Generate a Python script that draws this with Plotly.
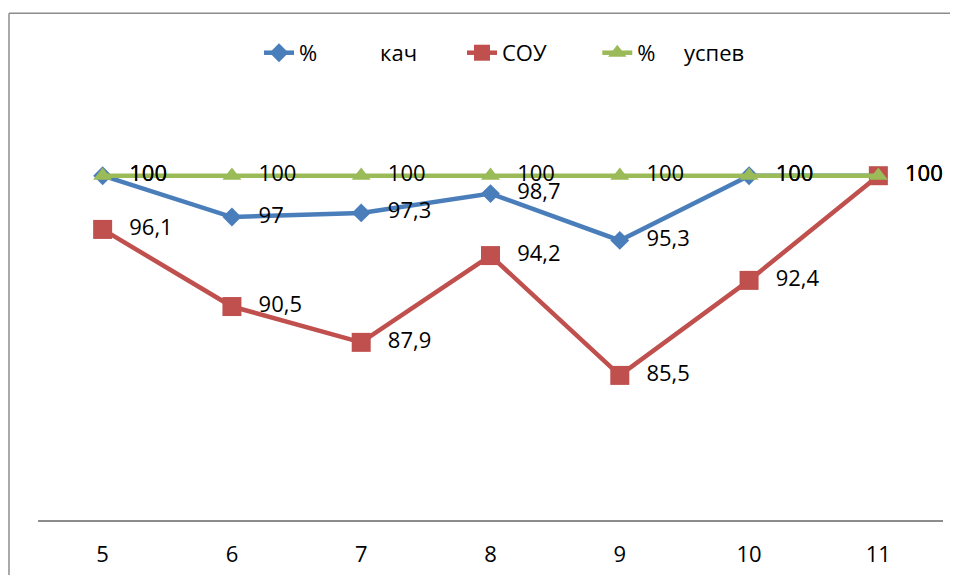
import plotly.graph_objects as go

# ---- data ----
grades = ["5", "6", "7", "8", "9", "10", "11"]
kach = [100, 97, 97.3, 98.7, 95.3, 100, 100]
sou = [96.1, 90.5, 87.9, 94.2, 85.5, 92.4, 100]
uspev = [100, 100, 100, 100, 100, 100, 100]

NB = "\u00a0"
name_kach = "%" + NB * 11 + "кач" + NB * 7
name_sou = "СОУ" + NB * 8
name_uspev = "%" + NB * 5 + "успев"

blue = "#4A7EBB"
red = "#C0504D"
green = "#9BBB59"
FONT = "Open Sans"


def fmt(v):
    return f"{v:g}".replace(".", ",")


fig = go.Figure()

series = [
    (name_kach, kach, blue, "diamond", 14.5),
    (name_sou, sou, red, "square", 19),
    (name_uspev, uspev, green, "triangle-up", 16.5),
]

for name, vals, col, sym, sz in series:
    fig.add_trace(go.Scatter(
        x=grades, y=vals, name=name, mode="lines+markers",
        line=dict(color=col, width=4.5),
        marker=dict(symbol=sym, size=sz, color=col),
        hoverinfo="skip",
    ))

# data labels (drawn above all lines)
for name, vals, col, sym, sz in series:
    fig.add_trace(go.Scatter(
        x=grades, y=vals, mode="markers+text", showlegend=False,
        text=[fmt(v) for v in vals], textposition="middle right",
        textfont=dict(family=FONT, size=22, color="#000000"),
        marker=dict(size=41, opacity=0),
        hoverinfo="skip",
    ))

W, H = 942, 567
L, R, T, B = 30, 7, 30, 52
PW, PH = W - L - R, H - T - B

fig.update_layout(
    width=W, height=H,
    margin=dict(l=L, r=R, t=T, b=B),
    paper_bgcolor="white", plot_bgcolor="white",
    font=dict(family=FONT, size=22, color="#000000"),
    showlegend=True,
    legend=dict(orientation="h", x=221 / PW, xanchor="left", y=(H - B - 45) / PH, yanchor="middle",
                bgcolor="rgba(0,0,0,0)", itemwidth=30,
                font=dict(family=FONT, size=22, color="#000000")),
    xaxis=dict(type="category", range=[-0.5, 6.5], showgrid=False, zeroline=False,
               showline=True, linecolor="#8C8C8C", linewidth=1.5, ticks="",
               ticklabelstandoff=14, tickfont=dict(family=FONT, size=22, color="#000000")),
    yaxis=dict(visible=False, range=[75, 110]),
    shapes=[
        dict(type="line", xref="paper", yref="paper",
             x0=(1 - L) / PW, x1=(1 - L) / PW,
             y0=(H - B - 600) / PH, y1=(H - B - 5) / PH,
             line=dict(color="#8C8C8C", width=1.5)),
        dict(type="line", xref="paper", yref="paper",
             x0=(1 - L) / PW, x1=(970 - L) / PW,
             y0=(H - B - 5) / PH, y1=(H - B - 5) / PH,
             line=dict(color="#8C8C8C", width=1.5)),
    ],
)

fig.write_html("out.html")
